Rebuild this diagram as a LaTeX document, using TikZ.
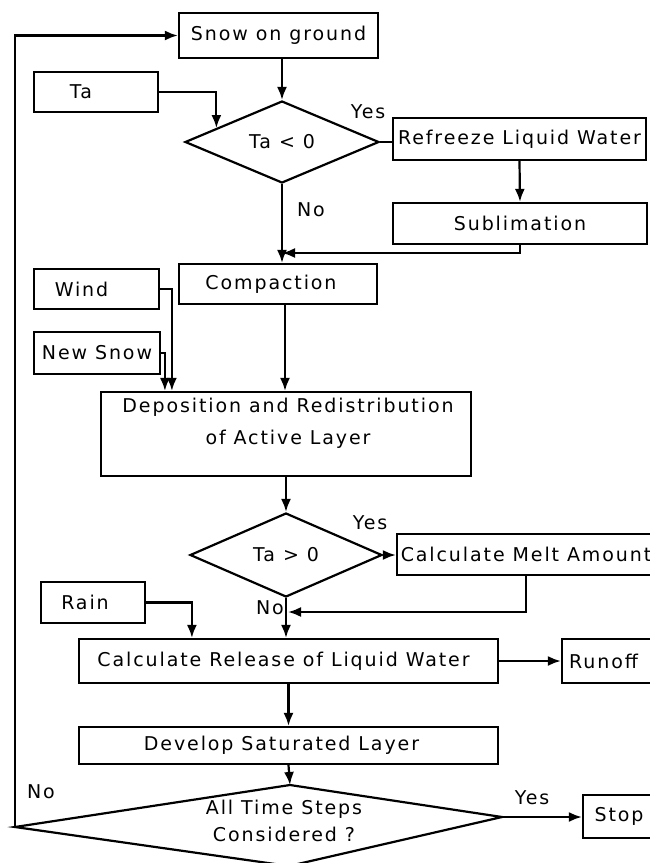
\documentclass[tikz,border=0pt]{standalone}
\usepackage{fontspec}
\setmainfont{DejaVu Sans}[LetterSpace=10]
\usetikzlibrary{shapes.geometric,arrows.meta,calc}
\newcommand\labfont{\fontsize{19}{22}\selectfont}
\begin{document}
\begin{tikzpicture}[x=1pt,y=-1pt,
  box/.style={draw, line width=2.2pt, inner sep=0pt, font=\labfont},
  dia/.style={draw, diamond, line width=2.2pt, inner sep=0pt, font=\labfont},
  txt/.style={inner sep=0pt, font=\labfont},
  line/.style={line width=2.2pt},
  arr/.style={line width=2.2pt, -{Latex[length=13pt,width=10pt]}}]
\useasboundingbox (0,0) rectangle (650,863);
% boxes
\node[box, minimum width=199pt, minimum height=45pt] (snow) at (278.5,35.5) {Snow on ground};
\node[box, minimum width=124pt, minimum height=40pt] (ta) at (96,92) {Ta\hspace*{30pt}};
\node[dia, minimum width=194pt, minimum height=82pt] (dec1) at (282,142) {Ta < 0};
\node[box, minimum width=253pt, minimum height=42pt] (refr) at (519.5,139) {Refreeze Liquid Water};
\node[box, minimum width=254pt, minimum height=41pt] (sub) at (520,223.5) {Sublimation};
\node[box, minimum width=198pt, minimum height=40pt] (comp) at (278,284) {Compaction\hspace*{14pt}};
\node[box, minimum width=125pt, minimum height=40pt] (wind) at (96.5,289) {Wind\hspace*{30pt}};
\node[box, minimum width=126pt, minimum height=42pt] (news) at (97,353) {New Snow};
\node[box, minimum width=370pt, minimum height=84pt] (dep) at (286,434) {};
\node[txt, align=center] (deptxt) at (288,423) {Deposition and Redistribution\\[10pt]of Active Layer};
\node[dia, minimum width=192pt, minimum height=84pt] (dec2) at (286,555) {Ta > 0};
\node[box, minimum width=258pt, minimum height=41pt] (melt) at (526,554.5) {Calculate Melt Amount};
\node[box, minimum width=104pt, minimum height=41pt] (rain) at (93,602.5) {Rain\hspace*{16pt}};
\node[box, minimum width=419pt, minimum height=44pt] (rel) at (288.5,661) {Calculate Release of Liquid Water\hspace*{10pt}};
\node[box, minimum width=93pt, minimum height=44pt] (run) at (608.5,661) {Runoff\hspace*{10pt}};
\node[box, minimum width=419pt, minimum height=37pt] (dev) at (288.5,745.5) {Develop Saturated Layer\hspace*{14pt}};
\node[box, minimum width=72pt, minimum height=43pt] (stop) at (619,816.5) {Stop};
% final decision as polygon
\coordinate (at) at (290,785);
\coordinate (ar) at (502,817);
\coordinate (ab) at (289,866);
\coordinate (al) at (15,827);
\draw[line, line join=miter] (at) -- (ar) -- (ab) -- (al) -- cycle;
\node[txt, align=center] (alltxt) at (284,821) {All Time Steps\\[5pt]Considered ?};
% labels
\node[txt] (yes1) at (368,112) {Yes};
\node[txt] (no1) at (311,210) {No};
\node[txt] (yes2) at (370,523) {Yes};
\node[txt] (no2) at (270,608) {No};
\node[txt] (no3) at (41,792) {No};
\node[txt] (yes3) at (532,798) {Yes};
% junction coordinates
\coordinate (j1) at (282,253);
\coordinate (j2) at (288,612);
\coordinate (wd) at ($(dep.north west)+(72,0)$);
\coordinate (nd) at ($(dep.north west)+(65,0)$);
\coordinate (rd) at ($(rel.north west)+(114,0)$);
% connectors
\draw[arr] (al) |- (snow.west);
\draw[arr] (dec1.north |- snow.south) -- (dec1.north);
\draw[arr] (ta.east) -| (dec1.168);
\draw[line] (dec1.east) -- (dec1.east -| refr.west);
\draw[arr] (refr.south) -- (sub.north);
\draw[arr] (dec1.south) -- (dec1.south |- comp.north);
\draw[arr] (sub.south) |- (j1);
\draw[arr] (wind.east) -| (wd);
\draw[arr] (news.east) -| (nd);
\draw[arr] ([xshift=7pt]comp.south) -- ([xshift=7pt]comp.south |- dep.north);
\draw[arr] (dep.south) -- (dec2.north);
\draw[arr] (dec2.east) -- (melt.west |- dec2.east);
\draw[arr] (melt.south) |- (j2);
\draw[arr] (rain.east) -| (rd);
\draw[arr] (dec2.south) -- (dec2.south |- rel.north);
\draw[arr] (rel.east) -- (run.west);
\draw[arr] (rel.south) -- (dev.north);
\draw[arr] (dev.south) -- (at);
\draw[arr] (ar) -- (stop.west |- ar);
\end{tikzpicture}
\end{document}
